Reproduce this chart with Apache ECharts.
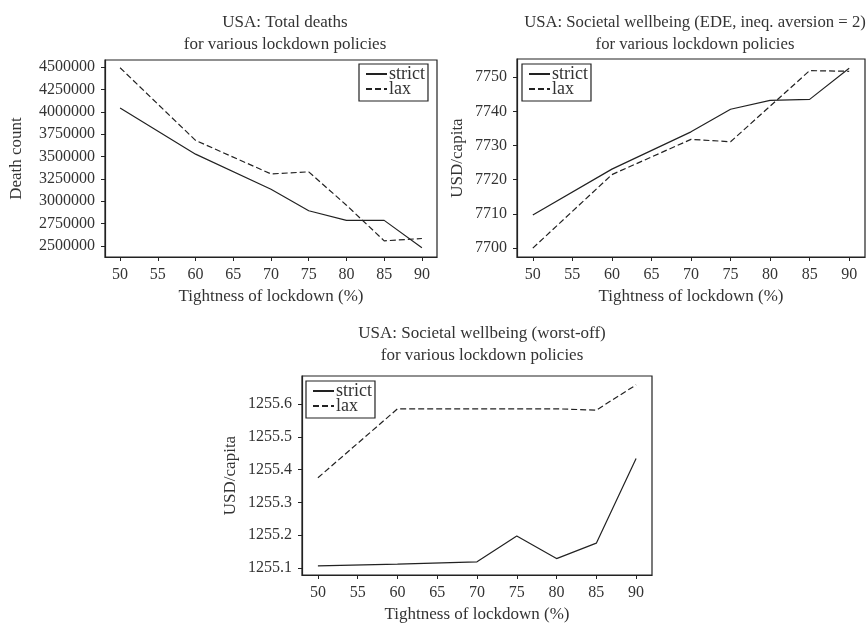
<!DOCTYPE html>
<html>
<head>
<meta charset="utf-8">
<script src="https://cdn.jsdelivr.net/npm/echarts@6/dist/echarts.min.js"></script>
<style>
  html, body { margin: 0; padding: 0; background: #fff; }
  #chart { width: 866px; height: 624px; }
</style>
</head>
<body>
<div id="chart"></div>
<script>
// --- data ---
const tightness = [50, 60, 70, 75, 80, 85, 90];

const deathsStrict = [4043000, 3526000, 3133000, 2893000, 2785000, 2785000, 2478000];
const deathsLax    = [4493000, 3680000, 3305000, 3328000, 2955000, 2556000, 2582000];

const edeStrict = [7709.7, 7723.1, 7734.0, 7740.6, 7743.2, 7743.5, 7752.6];
const edeLax    = [7700.0, 7721.5, 7731.8, 7731.1, 7741.5, 7751.9, 7751.7];

const worstStrict = [1255.107, 1255.112, 1255.119, 1255.198, 1255.129, 1255.176, 1255.434];
const worstLax    = [1255.375, 1255.585, 1255.585, 1255.585, 1255.585, 1255.581, 1255.658];

// tick labels
const xTicks = [50, 55, 60, 65, 70, 75, 80, 85, 90];
const deathTicks = [2500000, 2750000, 3000000, 3250000, 3500000, 3750000, 4000000, 4250000, 4500000];
const edeTicks = [7700, 7710, 7720, 7730, 7740, 7750];
const worstTicks = [1255.1, 1255.2, 1255.3, 1255.4, 1255.5, 1255.6];

const FONT = '"Liberation Serif", "DejaVu Serif", serif';
const TEXT = '#333';
const LINE = '#222';

const pairs = (ys) => tightness.map((x, i) => [x, ys[i]]);

// one axis pair per panel
function xAxisFor(gridIndex) {
  return {
    type: 'value',
    gridIndex: gridIndex,
    min: 48,
    max: 92,
    name: 'Tightness of lockdown (%)',
    nameLocation: 'middle',
    nameGap: 31,
    nameTextStyle: { fontFamily: FONT, fontSize: 17, color: TEXT },
    axisLine: { show: true, onZero: false, lineStyle: { color: LINE, width: 1.2 } },
    axisTick: { show: true, length: 4, customValues: xTicks, lineStyle: { color: LINE } },
    axisLabel: { customValues: xTicks, margin: 10, fontFamily: FONT, fontSize: 16, color: TEXT },
    splitLine: { show: false }
  };
}

function yAxisFor(gridIndex, name, ticks, min, max, gap, fmt) {
  return {
    type: 'value',
    gridIndex: gridIndex,
    min: min,
    max: max,
    name: name,
    nameLocation: 'middle',
    nameRotate: 90,
    nameGap: gap,
    nameTextStyle: { fontFamily: FONT, fontSize: 17, color: TEXT },
    axisLine: { show: true, onZero: false, lineStyle: { color: LINE, width: 1.2 } },
    axisTick: { show: true, length: 4, customValues: ticks, lineStyle: { color: LINE } },
    axisLabel: {
      customValues: ticks, margin: 10, fontFamily: FONT, fontSize: 16, color: TEXT,
      formatter: fmt
    },
    splitLine: { show: false }
  };
}

function lineSeries(name, idx, ys, dashed) {
  return {
    name: name,
    type: 'line',
    xAxisIndex: idx,
    yAxisIndex: idx,
    data: pairs(ys),
    symbol: 'none',
    animation: false,
    lineStyle: { color: LINE, width: 1.2, type: dashed ? [6, 3] : 'solid' },
    itemStyle: { color: LINE }
  };
}

function legendAt(left, top) {
  return {
    left: left,
    top: top,
    orient: 'vertical',
    data: ['strict', 'lax'],
    itemWidth: 21,
    itemHeight: 10,
    itemGap: -3,
    padding: [1, 3, 3, 6],
    borderColor: LINE,
    borderWidth: 1.2,
    selectedMode: false,
    itemStyle: { opacity: 0 },
    textStyle: { fontFamily: FONT, fontSize: 18, color: TEXT, padding: [0, 0, 0, -3] }
  };
}

const titleStyle = { fontFamily: FONT, fontSize: 17, fontWeight: 'normal', color: TEXT, lineHeight: 22 };
const titleStyleWide = Object.assign({}, titleStyle, { fontSize: 16.7 });

const option = {
  backgroundColor: '#fff',
  animation: false,
  title: [
    { text: 'USA: Total deaths\nfor various lockdown policies', left: 280, top: 7, textAlign: 'center', textStyle: titleStyle },
    { text: 'USA: Societal wellbeing (EDE, ineq. aversion = 2)\nfor various lockdown policies', left: 690, top: 7, textAlign: 'center', textStyle: titleStyleWide },
    { text: 'USA: Societal wellbeing (worst-off)\nfor various lockdown policies', left: 477, top: 318, textAlign: 'center', textStyle: titleStyle }
  ],
  legend: [
    legendAt(359, 64),
    legendAt(522, 64),
    legendAt(306, 381)
  ],
  grid: [
    { left: 105, top: 60, width: 332, height: 197, show: true, borderColor: LINE, borderWidth: 1.2 },
    { left: 517, top: 59, width: 348, height: 198, show: true, borderColor: LINE, borderWidth: 1.2 },
    { left: 302, top: 376, width: 350, height: 202, show: true, borderColor: LINE, borderWidth: 1.2 }
  ],
  xAxis: [xAxisFor(0), xAxisFor(1), xAxisFor(2)],
  yAxis: [
    yAxisFor(0, 'Death count', deathTicks, 2375000, 4580000, 80, v => String(v)),
    yAxisFor(1, 'USD/capita', edeTicks, 7697.4, 7755.3, 51, v => String(Math.round(v))),
    yAxisFor(2, 'USD/capita', worstTicks, 1255.079, 1255.685, 63, v => v.toFixed(1))
  ],
  series: [
    lineSeries('strict', 0, deathsStrict, false),
    lineSeries('lax', 0, deathsLax, true),
    lineSeries('strict', 1, edeStrict, false),
    lineSeries('lax', 1, edeLax, true),
    lineSeries('strict', 2, worstStrict, false),
    lineSeries('lax', 2, worstLax, true)
  ]
};

const myChart = echarts.init(document.getElementById('chart'), null, { renderer: 'canvas' });
myChart.setOption(option);
</script>
</body>
</html>
